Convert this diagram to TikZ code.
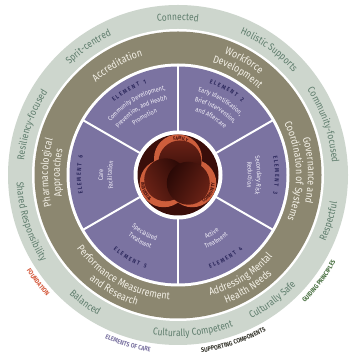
\documentclass[tikz,border=0pt]{standalone}
\usepackage{fontspec}
\setmainfont{Fira Sans}[FakeStretch=0.85]
\usetikzlibrary{decorations.text}
\definecolor{ringlight}{HTML}{CDD6CD}
\definecolor{ringtext}{HTML}{5F7D6D}
\definecolor{olivering}{HTML}{8C8770}
\definecolor{olivetext}{HTML}{F3F0E6}
\definecolor{purp}{HTML}{7B73A1}
\definecolor{purptext}{HTML}{F4F2FA}
\definecolor{elemlabel}{HTML}{2E2A5E}
\definecolor{dkc}{HTML}{3A0E0A}
\definecolor{orng}{HTML}{CD5E3C}
\definecolor{swirllight}{HTML}{6A2216}
\definecolor{swirlmid}{HTML}{3C0F0B}
\definecolor{swirldark}{HTML}{2A0906}
\definecolor{crtext}{HTML}{4A140E}
\definecolor{foundc}{HTML}{D4583A}
\definecolor{carec}{HTML}{7B73A1}
\definecolor{suppc}{HTML}{33332A}
\definecolor{guidec}{HTML}{466E3E}
\newcommand\CWtext[5]{%
  \pgfmathsetmacro\cwsa{#1+85}\pgfmathsetmacro\cwea{#1-85}%
  \path[decorate,decoration={text along path,text align=center,text color=#3,text={|#4|#5}}]
    (\cwsa:#2pt) arc[start angle=\cwsa,end angle=\cwea,radius=#2pt];}
\newcommand\CCWtext[5]{%
  \pgfmathsetmacro\cwsa{#1-85}\pgfmathsetmacro\cwea{#1+85}%
  \path[decorate,decoration={text along path,text align=center,text color=#3,text={|#4|#5}}]
    (\cwsa:#2pt) arc[start angle=\cwsa,end angle=\cwea,radius=#2pt];}
\newcommand\ringfont{\fontsize{10}{10}\selectfont}
\newcommand\olivefont{\fontsize{10.5}{10.5}\selectfont}
\newcommand\elfont{\fontsize{6.5}{6.5}\selectfont}
\newcommand\ellabfont{\bfseries\fontsize{6}{6}\selectfont}
\newcommand\outlabfont{\bfseries\fontsize{6.5}{6.5}\selectfont}
\newcommand\crfont{\bfseries\fontsize{5}{5}\selectfont}
\newcommand\lsp{\kern1.6pt}
\begin{document}
\begin{tikzpicture}[x=1pt,y=1pt]
\useasboundingbox (0,0) rectangle (355,358);
\fill[white] (0,0) rectangle (355,358);
\begin{scope}[shift={(178,183)}]
% rings
\fill[ringlight] (0,0) circle (170pt);
\fill[white] (0,0) circle (146pt);
\fill[olivering] (0,0) circle (143.5pt);
\fill[white] (0,0) circle (111.5pt);
\fill[purp] (0,0) circle (108.5pt);
\foreach \a in {30,90,...,330} \draw[white,line width=2pt] (\a:44pt) -- (\a:109pt);
\fill[white] (0,0) circle (44.5pt);
\fill[dkc] (0,0) circle (40.5pt);
% center swirl
\begin{scope}
\clip (0,0) circle (40.5pt);
\foreach \t in {90,210,330} {
  \fill[orng] (\t:16.5pt) circle (24pt);
}
\foreach \t in {90,210,330} {
  \begin{scope}[shift={(\t:16.5pt)}]
  \shade[top color=swirllight,middle color=swirlmid,bottom color=swirldark,shading angle=\t-90] (\t+210:4pt) circle (21.5pt);
  \end{scope}
}
\end{scope}
\begin{scope}[shift={(90:16.5pt)}]
\CWtext{82}{18.5}{crtext}{\crfont}{FAMILY}
\end{scope}
\begin{scope}[shift={(210:16.5pt)}]
\CCWtext{205}{22.5}{crtext}{\crfont}{INDIVIDUAL}
\end{scope}
\begin{scope}[shift={(330:16.5pt)}]
\CCWtext{-30}{22.5}{crtext}{\crfont}{COMMUNITY}
\end{scope}
% outer ring texts
\CWtext{90}{154.5}{ringtext}{\ringfont}{Connected}
\CWtext{54}{154.5}{ringtext}{\ringfont}{Holistic Supports}
\CWtext{19}{154.5}{ringtext}{\ringfont}{Community-focused}
\CWtext{161}{154.5}{ringtext}{\ringfont}{Resiliency-focused}
\CWtext{125}{154.5}{ringtext}{\ringfont}{Sprit-centred}
\CCWtext{-17}{161.5}{ringtext}{\ringfont}{Respectful}
\CCWtext{-53}{161.5}{ringtext}{\ringfont}{Culturally Safe}
\CCWtext{-84.5}{161.5}{ringtext}{\ringfont}{Culturally Competent}
\CCWtext{-126}{161.5}{ringtext}{\ringfont}{Balanced}
\CCWtext{-162.5}{161.5}{ringtext}{\ringfont}{Shared Responsibility}
% olive ring texts
\CWtext{119}{124}{olivetext}{\olivefont}{Accreditation}
\CWtext{60}{130}{olivetext}{\olivefont}{Workforce}
\CWtext{60}{118}{olivetext}{\olivefont}{Development}
\CWtext{2}{130}{olivetext}{\olivefont}{Governance and}
\CWtext{2}{118}{olivetext}{\olivefont}{Coordination of Systems}
\CWtext{179}{130}{olivetext}{\olivefont}{Pharmacological}
\CWtext{179}{118}{olivetext}{\olivefont}{Approaches}
\CCWtext{-58}{125}{olivetext}{\olivefont}{Addressing Mental}
\CCWtext{-58}{137}{olivetext}{\olivefont}{Health Needs}
\CCWtext{-119}{125}{olivetext}{\olivefont}{Performance Measurement}
\CCWtext{-119}{137}{olivetext}{\olivefont}{and Research}
% elements
\CWtext{120}{97}{elemlabel}{\ellabfont}{{E\lsp}{L\lsp}{E\lsp}{M\lsp}{E\lsp}{N\lsp}{T\lsp\lsp\lsp}{1}}
\CWtext{120}{85.5}{purptext}{\elfont}{Community Development,}
\CWtext{120}{75.5}{purptext}{\elfont}{Prevention, and Health}
\CWtext{120}{65.5}{purptext}{\elfont}{Promotion}
\CWtext{60}{97}{elemlabel}{\ellabfont}{{E\lsp}{L\lsp}{E\lsp}{M\lsp}{E\lsp}{N\lsp}{T\lsp\lsp\lsp}{2}}
\CWtext{60}{85.5}{purptext}{\elfont}{Early Identification,}
\CWtext{60}{75.5}{purptext}{\elfont}{Brief Intervention,}
\CWtext{60}{65.5}{purptext}{\elfont}{and Aftercare}
\CWtext{0}{97}{elemlabel}{\ellabfont}{{E\lsp}{L\lsp}{E\lsp}{M\lsp}{E\lsp}{N\lsp}{T\lsp\lsp\lsp}{3}}
\CWtext{0}{79}{purptext}{\elfont}{Secondary Risk}
\CWtext{0}{70}{purptext}{\elfont}{Reduction}
\CCWtext{-60}{98.5}{elemlabel}{\ellabfont}{{E\lsp}{L\lsp}{E\lsp}{M\lsp}{E\lsp}{N\lsp}{T\lsp\lsp\lsp}{4}}
\CCWtext{-60}{69.5}{purptext}{\elfont}{Active}
\CCWtext{-60}{78.5}{purptext}{\elfont}{Treatment}
\CCWtext{-120}{98.5}{elemlabel}{\ellabfont}{{E\lsp}{L\lsp}{E\lsp}{M\lsp}{E\lsp}{N\lsp}{T\lsp\lsp\lsp}{5}}
\CCWtext{-120}{69.5}{purptext}{\elfont}{Specialized}
\CCWtext{-120}{78.5}{purptext}{\elfont}{Treatment}
\CWtext{180}{97}{elemlabel}{\ellabfont}{{E\lsp}{L\lsp}{E\lsp}{M\lsp}{E\lsp}{N\lsp}{T\lsp\lsp\lsp}{6}}
\CWtext{180}{75}{purptext}{\elfont}{Care}
\CWtext{180}{66}{purptext}{\elfont}{Facilitation}
% outside labels
\CCWtext{-142.5}{179}{foundc}{\outlabfont}{FOUNDATION}
\CCWtext{-106.5}{179}{carec}{\outlabfont}{ELEMENTS OF CARE}
\CCWtext{-71.5}{179}{suppc}{\outlabfont}{SUPPORTING COMPONENTS}
\CCWtext{-37}{180}{guidec}{\outlabfont}{GUIDING PRINCIPLES}
\end{scope}
\end{tikzpicture}
\end{document}
